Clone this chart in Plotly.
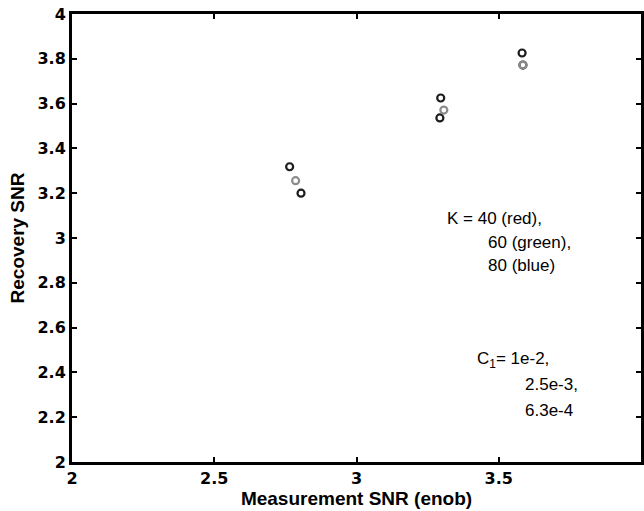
import plotly.graph_objects as go

# Recovery SNR versus measurement SNR (effective number of bits) for three
# measurement counts K; each cluster corresponds to one C1 setting.
enob_k40 = [2.805, 3.293, 3.585]
snr_k40 = [3.200, 3.536, 3.772]

enob_k60 = [2.786, 3.307, 3.585]
snr_k60 = [3.256, 3.571, 3.772]

enob_k80 = [2.765, 3.296, 3.582]
snr_k80 = [3.318, 3.625, 3.826]

x_ticks = [2, 2.5, 3, 3.5, 4]
x_tick_text = ["2", "2.5", "3", "3.5", "4"]
y_ticks = [2, 2.2, 2.4, 2.6, 2.8, 3, 3.2, 3.4, 3.6, 3.8, 4]
y_tick_text = ["2", "2.2", "2.4", "2.6", "2.8", "3", "3.2", "3.4", "3.6", "3.8", "4"]

series = [
    ("K = 40", enob_k40, snr_k40, "#1c1c1c"),
    ("K = 60", enob_k60, snr_k60, "#8c8c8c"),
    ("K = 80", enob_k80, snr_k80, "#1c1c1c"),
]

fig = go.Figure()
for name, xs, ys, color in series:
    fig.add_trace(go.Scatter(
        x=xs, y=ys, mode="markers", name=name,
        marker=dict(symbol="circle-open", size=7, color=color,
                    line=dict(width=2.2, color=color)),
    ))

family = "Liberation Sans"
tick_font = dict(family="DejaVu Sans", size=16, color="black", weight=700)
title_font = dict(family=family, size=19, color="black", weight=700)
note_font = dict(family=family, size=17, color="black", weight=400)

fig.update_layout(template="simple_white")

fig.update_xaxes(
    range=[2, 4], tickmode="array", tickvals=x_ticks, ticktext=x_tick_text,
    tickfont=tick_font,
    title=dict(text="Measurement SNR (enob)", font=title_font, standoff=0),
    showline=True, linecolor="black", linewidth=3, mirror="ticks",
    ticks="inside", ticklen=5, tickwidth=2, tickcolor="black",
    showgrid=False, zeroline=False,
)
fig.update_yaxes(
    range=[2, 4], tickmode="array", tickvals=y_ticks, ticktext=y_tick_text,
    tickfont=tick_font,
    title=dict(text="Recovery SNR", font=title_font, standoff=8),
    showline=True, linecolor="black", linewidth=3, mirror="ticks",
    ticks="inside", ticklen=5, tickwidth=2, tickcolor="black",
    showgrid=False, zeroline=False,
)

k_lines = [("K = 40 (red),", 3.310, 3.089), ("60 (green),", 3.456, 2.982), ("80 (blue)", 3.456, 2.879)]
c_lines = [("C<sub>1</sub>= 1e-2,", 3.415, 2.455), ("2.5e-3,", 3.585, 2.344), ("6.3e-4", 3.585, 2.232)]
for text, x, y in k_lines + c_lines:
    fig.add_annotation(x=x, y=y, xref="x", yref="y", text=text, showarrow=False,
                       xanchor="left", yanchor="middle", font=note_font)

fig.update_layout(
    width=644, height=511,
    margin=dict(l=72, r=0, t=14, b=49),
    paper_bgcolor="white", plot_bgcolor="white",
    showlegend=False,
)

fig.write_html("out.html")
